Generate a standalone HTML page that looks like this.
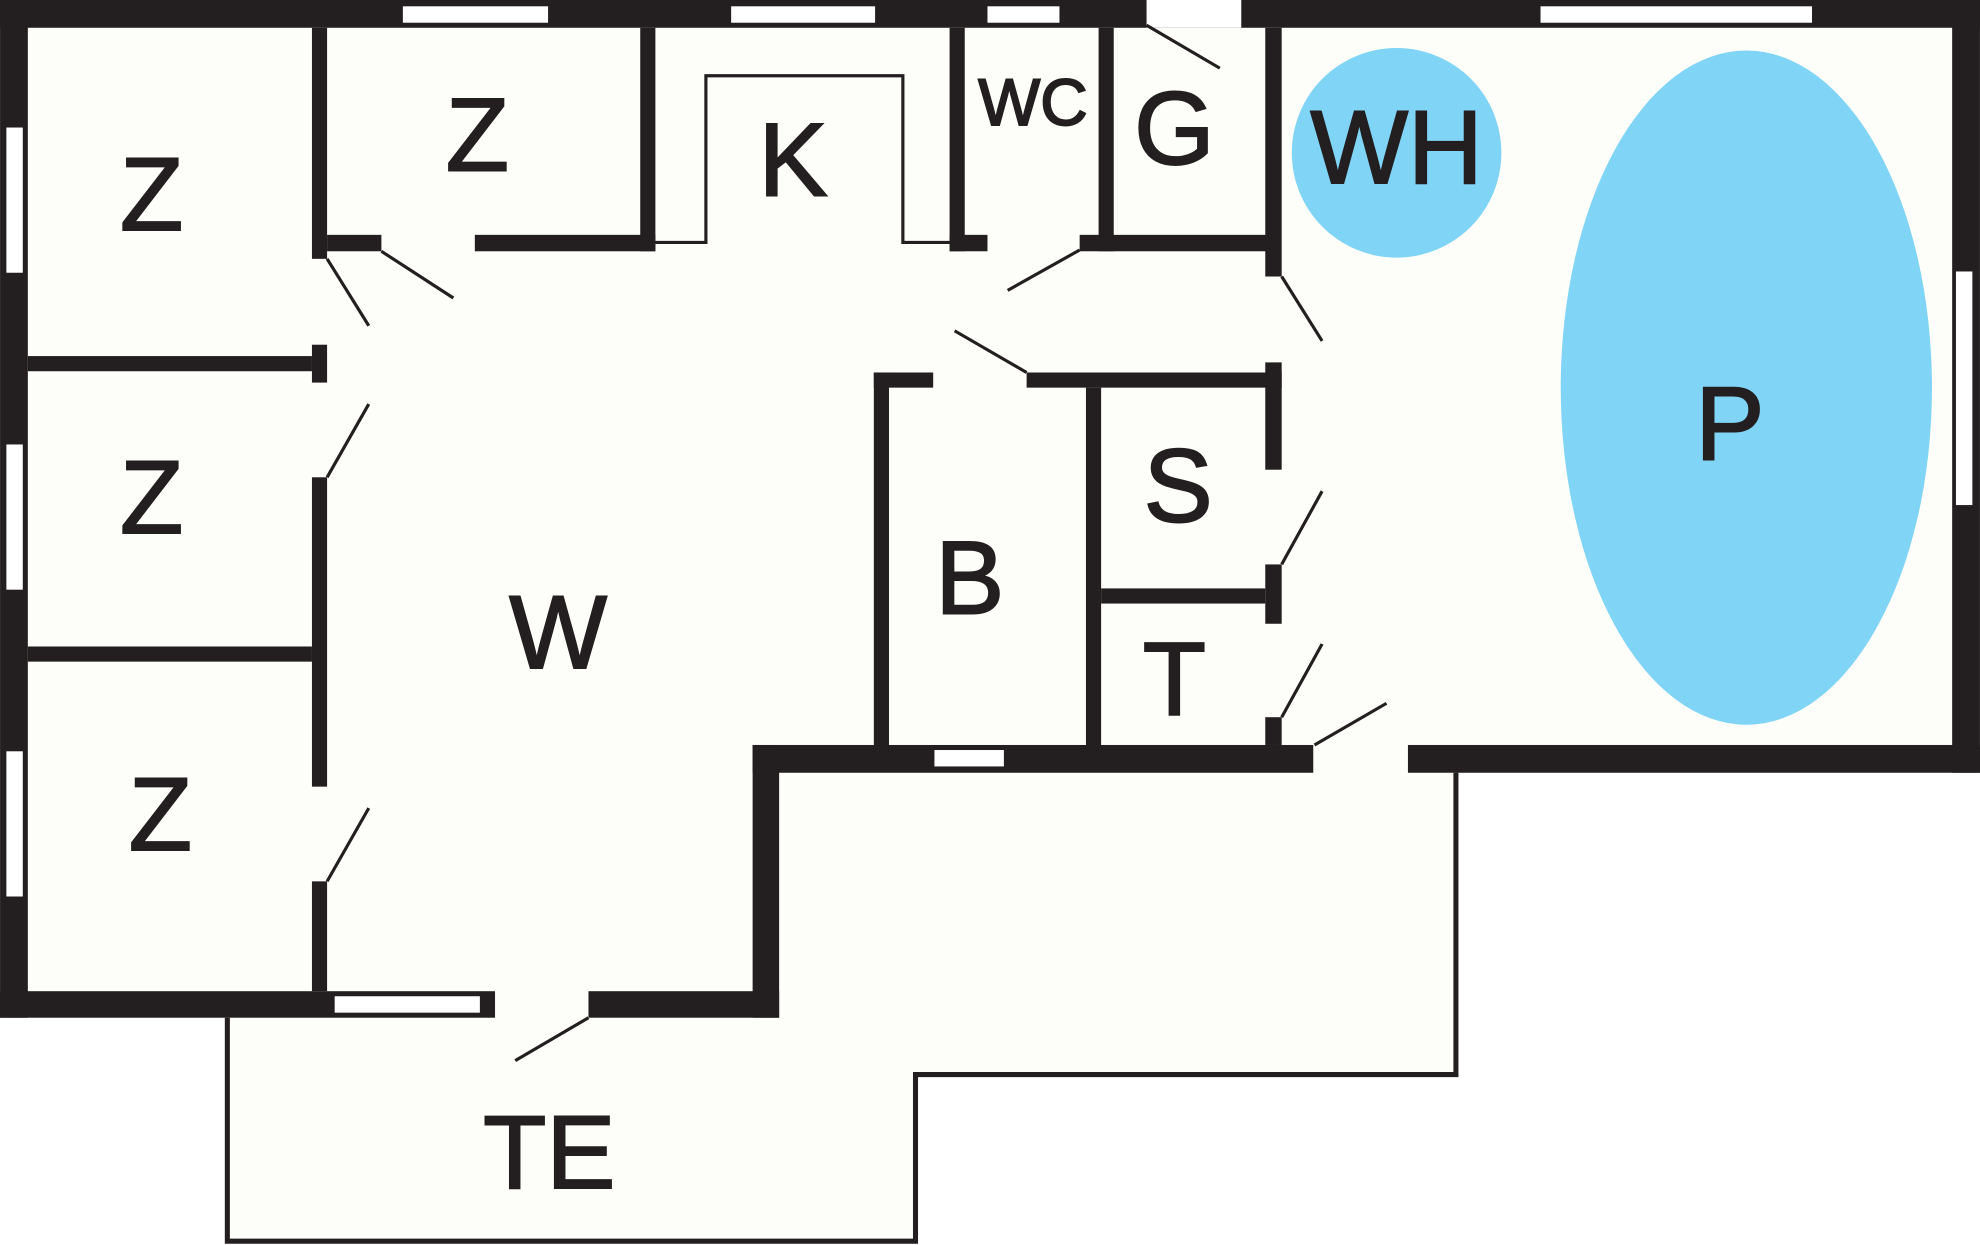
<!DOCTYPE html>
<html><head><meta charset="utf-8"><style>
html,body{margin:0;padding:0;background:#fff;}
svg{display:block;}
text{font-family:"Liberation Sans",sans-serif;fill:#231f20;text-anchor:middle;stroke:#231f20;stroke-width:1.5;}
</style></head><body>
<svg width="1980" height="1245" viewBox="0 0 1568 986" xmlns="http://www.w3.org/2000/svg">
<rect width="1568" height="986" fill="#ffffff"/>
<polygon points="0,0 1568,0 1568,612 1153,612 1153,851 725,851 725,983 180,983 180,806 0,806" fill="#fdfdf9"/>
<g fill="#231f20">
<rect x="0" y="0" width="1568" height="22"/>
<rect x="0" y="0" width="22" height="806"/>
<rect x="1546" y="0" width="22" height="612"/>
<rect x="596" y="590" width="444" height="22"/>
<rect x="1115" y="590" width="453" height="22"/>
<rect x="596" y="590" width="21" height="216"/>
<rect x="0" y="785" width="392" height="21"/>
<rect x="466" y="785" width="151" height="21"/>
<rect x="247" y="22" width="12" height="183"/>
<rect x="247" y="273" width="12" height="30"/>
<rect x="247" y="378" width="12" height="245"/>
<rect x="247" y="698" width="12" height="87"/>
<rect x="22" y="282" width="225" height="12"/>
<rect x="22" y="512" width="225" height="12"/>
<rect x="259" y="186" width="43" height="13"/>
<rect x="376" y="186" width="143" height="13"/>
<rect x="507" y="22" width="12" height="177"/>
<rect x="752" y="22" width="12" height="177"/>
<rect x="752" y="186" width="30" height="13"/>
<rect x="855" y="186" width="155" height="13"/>
<rect x="870" y="22" width="12" height="177"/>
<rect x="1002" y="22" width="13" height="197"/>
<rect x="1002" y="287" width="13" height="85"/>
<rect x="1002" y="447" width="13" height="47"/>
<rect x="1002" y="568" width="13" height="22"/>
<rect x="692" y="295" width="47" height="12"/>
<rect x="813" y="295" width="202" height="12"/>
<rect x="692" y="295" width="12" height="300"/>
<rect x="860" y="307" width="12" height="288"/>
<rect x="872" y="466" width="130" height="12"/>
</g>
<g fill="#ffffff">
<rect x="908" y="0" width="75" height="22"/>
<rect x="319" y="5" width="115" height="13"/>
<rect x="579" y="5" width="114" height="13"/>
<rect x="782" y="5" width="57" height="13"/>
<rect x="1220" y="5" width="215" height="13"/>
<rect x="5" y="101" width="13" height="115"/>
<rect x="5" y="352" width="13" height="115"/>
<rect x="5" y="595" width="13" height="115"/>
<rect x="1549" y="215" width="13" height="185"/>
<rect x="740" y="594" width="55" height="13"/>
<rect x="265" y="789" width="115" height="13"/>
</g>
<polyline points="180,806 180,983 725,983 725,851 1153,851 1153,612" fill="none" stroke="#231f20" stroke-width="4"/>
<polyline points="519,192 559,192 559,60 715,60 715,192 752,192" fill="none" stroke="#231f20" stroke-width="2.5"/>
<g stroke="#231f20" stroke-width="2.5">
<line x1="259" y1="205" x2="292" y2="258"/>
<line x1="302" y1="199" x2="359" y2="236"/>
<line x1="259" y1="378" x2="292" y2="320"/>
<line x1="259" y1="698" x2="292" y2="640"/>
<line x1="798" y1="230" x2="855" y2="198"/>
<line x1="756" y1="262" x2="813" y2="295"/>
<line x1="908" y1="20" x2="966" y2="54"/>
<line x1="1015" y1="219" x2="1047" y2="270"/>
<line x1="1015" y1="447" x2="1047" y2="389"/>
<line x1="1015" y1="568" x2="1047" y2="510"/>
<line x1="1041" y1="590" x2="1098" y2="557"/>
<line x1="408" y1="840" x2="466" y2="806"/>
</g>
<circle cx="1106" cy="121" r="83" fill="#80d4f6"/>
<ellipse cx="1383" cy="307" rx="147" ry="267" fill="#80d4f6"/>
<g font-size="82">
<text x="120" y="182">Z</text>
<text x="378" y="135">Z</text>
<text x="628" y="155">K</text>
<text x="930" y="130">G</text>
<text x="1106" y="145">WH</text>
<text x="1370" y="364">P</text>
<text x="933" y="413">S</text>
<text x="768" y="486">B</text>
<text x="930" y="566">T</text>
<text x="442" y="529">W</text>
<text x="120" y="422">Z</text>
<text x="127" y="673">Z</text>
<text x="435" y="941">TE</text>
</g>
<text x="818" y="99" font-size="52">WC</text>
</svg>
</body></html>
